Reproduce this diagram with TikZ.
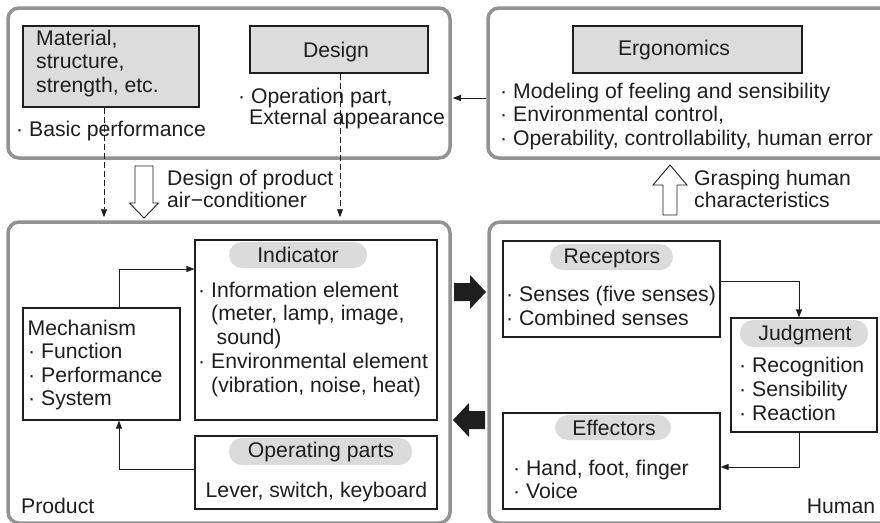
\documentclass[tikz,border=0pt]{standalone}
\usepackage{fontspec}
\setmainfont{Liberation Sans}
\usetikzlibrary{arrows.meta,fit}
\definecolor{outerc}{HTML}{929292}
\definecolor{boxfill}{HTML}{DCDCDC}
\definecolor{pillfill}{HTML}{DBDBDB}
\definecolor{ink}{HTML}{1E1E1E}
\begin{document}
\begin{tikzpicture}[x=1pt,y={(0pt,-1pt)},
  outerbox/.style={draw=outerc, line width=3.5pt, rounded corners=11pt, inner sep=0pt},
  graybox/.style={draw=ink, fill=boxfill, line width=1.1pt, inner sep=0pt},
  whitebox/.style={draw=ink, fill=white, line width=1.1pt, inner sep=0pt},
  pill/.style={fill=pillfill, draw=none, rounded corners=13pt, inner sep=0pt},
  txt/.style={inner sep=0pt, anchor=base west, text=ink, font=\fontsize{21.2}{24}\selectfont},
  ctxt/.style={txt, anchor=base},
  conn/.style={draw=ink, line width=0.9pt, -{Triangle[length=8pt,width=6pt]}},
  dconn/.style={conn, dash pattern=on 6pt off 3pt},
  hollow/.style={draw=ink, fill=white, line width=0.9pt, line join=miter},
  block/.style={fill=ink, draw=none}]
\useasboundingbox (0,0) rectangle (880,522);
\clip (0,0) rectangle (880,522);

% outer panels
\node[outerbox, fit={(8,8)(450,158)}] (tl) {};
\node[outerbox, fit={(488,8)(900,158)}] (tr) {};
\node[outerbox, fit={(8,222)(450,523)}] (bl) {};
\node[outerbox, fit={(489,222)(900,523)}] (br) {};

% helper coordinates
\coordinate (yTop) at (0,98);
\coordinate (xDA) at (104,0);
\coordinate (xDB) at (340,0);
\coordinate (xM) at (119,0);
\coordinate (yMi) at (0,269);
\coordinate (yOp) at (0,469);
\coordinate (xJ) at (799,0);
\coordinate (yR) at (0,281);
\coordinate (yE) at (0,467);

% top-left panel
\node[graybox, fit={(23,26)(199,107)}] (mat) {};
\node[graybox, fit={(250,26)(428,73)}] (des) {};
\node[txt] (t1) at (36,45) {Material,};
\node[txt] (t2) at (36,68.5) {structure,};
\node[txt] (t3) at (36,92) {strength, etc.};
\node[ctxt] (t4) at (336,57) {Design};
\node[txt] (t5) at (238,103) {· Operation part,};
\node[txt] (t6) at (249,124) {External appearance};
\node[txt] (t7) at (16,136) {· Basic performance};

% top-right panel
\node[graybox, fit={(573,26)(802,73)}] (erg) {};
\node[ctxt] (t8) at (674,55) {Ergonomics};
\node[txt] (t9) at (500,98) {· Modeling of feeling and sensibility};
\node[txt] (t10) at (500,121.5) {· Environmental control,};
\node[txt] (t11) at (500,145) {· Operability, controllability, human error};

% connectors between top panels
\draw[conn, shorten >=1pt] (tr.west |- yTop) -- (tl.east |- yTop);
\draw[dconn, shorten >=3pt] (mat.south -| xDA) -- (bl.north -| xDA);
\draw[dconn, shorten >=3pt] (des.south -| xDB) -- (bl.north -| xDB);

% hollow arrows and labels
\draw[hollow] (135,166) -- (153,166) -- (153,203) -- (158.5,203) -- (144,218) -- (129.5,203) -- (135,203) -- cycle;
\node[txt] (l1) at (167,185) {Design of product};
\node[txt] (l2) at (167,207) {air−conditioner};
\draw[hollow] (663,215) -- (677,215) -- (677,185) -- (687,185) -- (670,165) -- (653,185) -- (663,185) -- cycle;
\node[txt] (l3) at (694,185) {Grasping human};
\node[txt] (l4) at (694,207) {characteristics};

% black block arrows
\fill[block] (454,283) -- (470,283) -- (470,275) -- (486,292) -- (470,309) -- (470,301) -- (454,301) -- cycle;
\fill[block] (485,411) -- (469,411) -- (469,403) -- (453,420) -- (469,437) -- (469,429) -- (485,429) -- cycle;

% bottom-left panel
\node[whitebox, fit={(195,240)(437,420)}] (ind) {};
\node[whitebox, fit={(23,308)(180,420)}] (mech) {};
\node[whitebox, fit={(195,436)(437,509)}] (op) {};
\node[pill, fit={(229,242)(367,268)}] (pind) {};
\node[pill, fit={(229,438)(412,465)}] (pop) {};
\node[ctxt] (t12) at (298,262) {Indicator};
\node[txt] (t13) at (198,297) {· Information element};
\node[txt] (t14) at (211,320) {(meter, lamp, image,};
\node[txt] (t15) at (216.5,344) {sound)};
\node[txt] (t16) at (198,368) {· Environmental element};
\node[txt] (t17) at (211,392) {(vibration, noise, heat)};
\node[txt] (t18) at (27.5,335) {Mechanism};
\node[txt] (t19) at (28,358.5) {· Function};
\node[txt] (t20) at (28,382) {· Performance};
\node[txt] (t21) at (28,405.5) {· System};
\node[ctxt] (t22) at (321,457) {Operating parts};
\node[txt] (t23) at (205.5,497) {Lever, switch, keyboard};
\node[txt] (t24) at (21,513) {Product};
\draw[conn] (mech.north -| xM) |- (ind.west |- yMi);
\draw[conn] (op.west |- yOp) -| (mech.south -| xM);

% bottom-right panel
\node[whitebox, fit={(503,241)(720,337)}] (rec) {};
\node[whitebox, fit={(731,318)(877,432)}] (jud) {};
\node[whitebox, fit={(503,413)(720,509)}] (eff) {};
\node[pill, fit={(550,244)(673,270)}] (prec) {};
\node[pill, fit={(740,320)(868,347)}] (pjud) {};
\node[pill, fit={(555,415)(671,440)}] (peff) {};
\node[ctxt] (t25) at (612,263) {Receptors};
\node[txt] (t26) at (506,301) {· Senses (five senses)};
\node[txt] (t27) at (506,325) {· Combined senses};
\node[ctxt] (t28) at (805,340) {Judgment};
\node[txt] (t29) at (739,372) {· Recognition};
\node[txt] (t30) at (739,396) {· Sensibility};
\node[txt] (t31) at (739,420) {· Reaction};
\node[ctxt] (t32) at (614,435) {Effectors};
\node[txt] (t33) at (513,475) {· Hand, foot, finger};
\node[txt] (t34) at (513,498) {· Voice};
\node[ctxt] (t35) at (841,513) {Human};
\draw[conn] (rec.east |- yR) -| (jud.north -| xJ);
\draw[conn] (jud.south -| xJ) |- (eff.east |- yE);
\end{tikzpicture}
\end{document}
